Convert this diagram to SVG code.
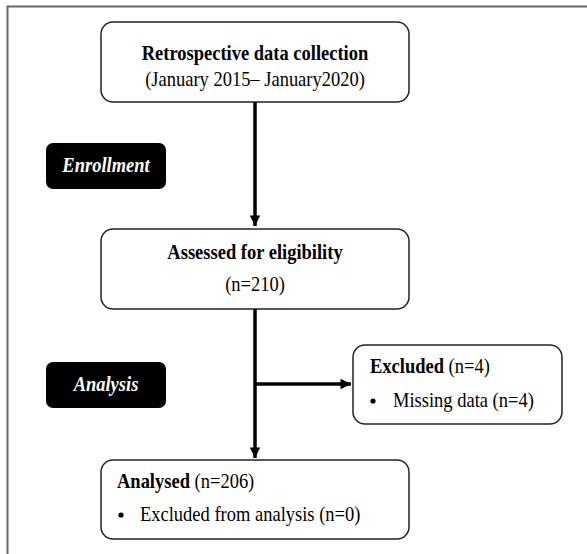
<svg xmlns="http://www.w3.org/2000/svg" width="587" height="554" viewBox="0 0 587 554">
<defs>
<marker id="arr" viewBox="0 0 10 10" refX="10" refY="5" markerWidth="3.4" markerHeight="3" orient="auto" markerUnits="strokeWidth">
<path d="M0,0 L10,5 L0,10 z" fill="#000"/>
</marker>
<style>
.box{fill:#fff;stroke:#222;stroke-width:1.5}
.tag{fill:#000;stroke:none}
.t{font-family:"Liberation Serif","Times New Roman",serif;font-size:18.5px;fill:#000}
.b{font-weight:bold}
.tagt{font-family:"Liberation Serif","Times New Roman",serif;font-size:18.5px;font-weight:bold;font-style:italic;fill:#fff}
.conn{stroke:#000;stroke-width:3.5;fill:none}
.frame{stroke:#666;stroke-width:2;fill:none}
</style>
</defs>
<rect width="587" height="554" fill="#fff"/>
<path class="frame" d="M7.5,554 V6.5 H587"/>
<g id="connectors">
<line class="conn" x1="255" y1="102" x2="255" y2="226" marker-end="url(#arr)"/>
<line class="conn" x1="255" y1="309" x2="255" y2="458" marker-end="url(#arr)"/>
<line class="conn" x1="255" y1="384" x2="351" y2="384" marker-end="url(#arr)"/>
</g>
<g id="n-retro">
<rect class="box" x="101" y="22" width="308" height="80" rx="12"/>
<text class="t b" x="255" y="60" text-anchor="middle" transform="matrix(1 0 0 1.15 0 -9)">Retrospective data collection</text>
<text class="t" x="255" y="86" text-anchor="middle" transform="matrix(1 0 0 1.15 0 -12.9)">(January 2015– January2020)</text>
</g>
<g id="n-enroll">
<rect class="tag" x="46" y="143" width="120" height="46" rx="7"/>
<text class="tagt" x="106" y="172" text-anchor="middle" transform="matrix(1 0 0 1.15 0 -25.8)">Enrollment</text>
</g>
<g id="n-assessed">
<rect class="box" x="101" y="229" width="308" height="80" rx="12"/>
<text class="t b" x="255" y="259" text-anchor="middle" transform="matrix(1 0 0 1.15 0 -38.85)">Assessed for eligibility</text>
<text class="t" x="255" y="291" text-anchor="middle" transform="matrix(1 0 0 1.15 0 -43.65)">(n=210)</text>
</g>
<g id="n-analysis">
<rect class="tag" x="46" y="362" width="120" height="46" rx="7"/>
<text class="tagt" x="106" y="391" text-anchor="middle" transform="matrix(1 0 0 1.15 0 -58.65)">Analysis</text>
</g>
<g id="n-excluded">
<rect class="box" x="353" y="345" width="209" height="79" rx="12"/>
<text class="t" x="370" y="373" transform="matrix(1 0 0 1.15 0 -55.95)"><tspan class="b">Excluded</tspan> (n=4)</text>
<circle cx="373" cy="401" r="2.6" fill="#000"/>
<text class="t" x="393" y="407" transform="matrix(1 0 0 1.15 0 -61.05)">Missing data (n=4)</text>
</g>
<g id="n-analysed">
<rect class="box" x="101" y="460" width="308" height="79" rx="12"/>
<text class="t" x="117" y="488" transform="matrix(1 0 0 1.15 0 -73.2)"><tspan class="b">Analysed</tspan> (n=206)</text>
<circle cx="121" cy="515" r="2.6" fill="#000"/>
<text class="t" x="140" y="521" transform="matrix(1 0 0 1.15 0 -78.15)">Excluded from analysis (n=0)</text>
</g>
</svg>
